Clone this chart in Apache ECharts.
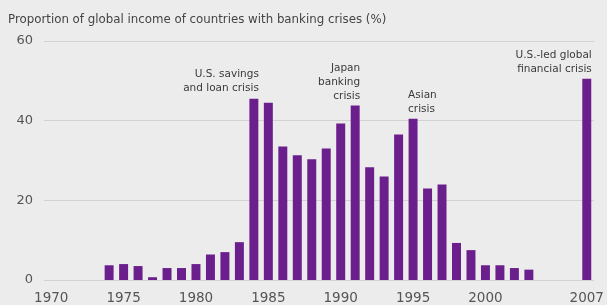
<!DOCTYPE html>
<html>
<head>
<meta charset="utf-8">
<script src="https://cdn.jsdelivr.net/npm/echarts@6/dist/echarts.min.js"></script>
<style>
  html, body { margin: 0; padding: 0; background: #ececec; }
  #chart { width: 607px; height: 305px; }
</style>
</head>
<body>
<div id="chart"></div>
<script>
// years 1970..2007
const years = []
for (let y = 1970; y <= 2007; y++) years.push(String(y))

const shares = [
  null, null, null, null, 3.7, 4, 3.5, 0.7, 3, 3,
  4, 6.4, 7, 9.5, 45.5, 44.5, 33.5, 31.3, 30.3, 33,
  39.3, 43.8, 28.3, 26, 36.5, 40.5, 23, 24, 9.3, 7.5,
  3.7, 3.7, 3, 2.6, null, null, null, 50.5
]

const tickYears = ['1970', '1975', '1980', '1985', '1990', '1995', '2000', '2007']

const notes = [
  { year: '1984', text: 'U.S. savings\nand loan crisis', align: 'right', offset: [5, 0] },
  { year: '1991', text: 'Japan\nbanking\ncrisis', align: 'right', offset: [5, 1] },
  { year: '1995', text: 'Asian\ncrisis', align: 'left', offset: [-5, 1] },
  { year: '2007', text: 'U.S.-led global\nfinancial crisis', align: 'right', offset: [5, 0] }
]

const font = 'DejaVu Sans, Verdana, sans-serif'

const chart = echarts.init(document.getElementById('chart'))

const barData = shares.map((v, i) => {
  const note = notes.find(n => n.year === years[i])
  if (!note) return v
  return {
    value: v,
    label: {
      show: true,
      position: 'top',
      distance: 3,
      align: note.align,
      offset: note.offset,
      formatter: note.text,
      color: '#3a3a3a',
      fontSize: 10.5,
      lineHeight: 14,
      fontFamily: font
    }
  }
})

chart.setOption({
  backgroundColor: '#ececec',
  animation: false,
  title: {
    text: 'Proportion of global income of countries with banking crises (%)',
    left: 3,
    top: 9,
    textStyle: {
      fontSize: 11.8,
      fontWeight: 'normal',
      color: '#444',
      fontFamily: font
    }
  },
  grid: { left: 44, right: 13, top: 41, bottom: 24 },
  xAxis: {
    type: 'category',
    data: years,
    axisLine: { show: false },
    axisTick: { show: false },
    axisLabel: {
      interval: (i, v) => tickYears.includes(v),
      color: '#555',
      fontSize: 13.5,
      margin: 11,
      fontFamily: font
    }
  },
  yAxis: {
    type: 'value',
    min: 0,
    max: 60,
    interval: 20,
    axisLine: { show: false },
    axisTick: { show: false },
    axisLabel: {
      color: '#555',
      fontSize: 13,
      margin: 11,
      fontFamily: font
    },
    splitLine: { lineStyle: { color: '#d2d2d2', width: 1 } }
  },
  series: [
    {
      type: 'bar',
      data: barData,
      barWidth: '62%',
      itemStyle: { color: '#6b1f8c' }
    }
  ]
})
</script>
</body>
</html>
